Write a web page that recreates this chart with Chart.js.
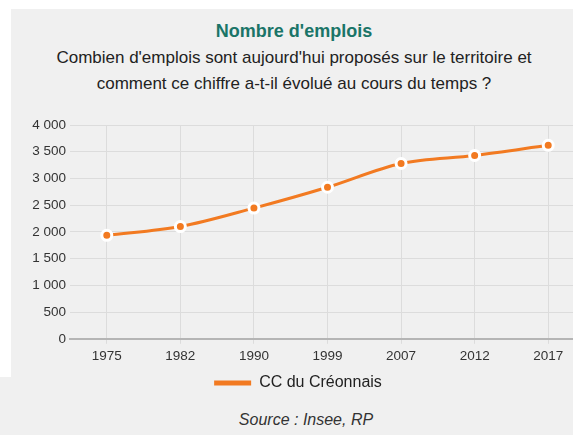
<!DOCTYPE html>
<html lang="fr">
<head>
<meta charset="utf-8">
<title>Nombre d'emplois</title>
<script src="https://cdn.jsdelivr.net/npm/chart.js@4/dist/chart.umd.min.js"></script>
<style>
  html, body {
    margin: 0;
    padding: 0;
    width: 573px;
    height: 435px;
    overflow: hidden;
    background: #fff;
    font-family: "Liberation Sans", Arial, sans-serif;
  }
  .panel { position: absolute; background: #f0f0f0; }
  #top-panel { left: 11px; top: 9px; right: 0; height: 368px; }
  #bottom-panel { left: 0; top: 377px; right: 0; bottom: 0; }
  #titre {
    position: absolute; left: 11px; width: 566px; top: 20px;
    text-align: center; font-size: 18px; line-height: 22px;
    font-weight: bold; color: #1a7568;
  }
  #sous-titre {
    position: absolute; left: 11px; width: 566px; top: 45px;
    text-align: center; font-size: 17px; line-height: 26px; color: #222;
  }
  #source {
    position: absolute; left: 11px; width: 590px; top: 410px;
    text-align: center; font-size: 16px; line-height: 20px;
    font-style: italic; color: #333;
  }
  #chart-box { position: absolute; left: 11px; top: 105px; width: 584px; height: 296px; }
</style>
</head>
<body>
<div class="panel" id="top-panel"></div>
<div class="panel" id="bottom-panel"></div>
<div id="titre">Nombre d'emplois</div>
<div id="sous-titre">Combien d'emplois sont aujourd'hui proposés sur le territoire et<br>comment ce chiffre a-t-il évolué au cours du temps ?</div>
<div id="chart-box"><canvas id="emplois"></canvas></div>
<div id="source">Source : Insee, RP</div>

<script>
// Années de recensement et nombre d'emplois
const annees = ['1975', '1982', '1990', '1999', '2007', '2012', '2017'];
const emplois = [1935, 2100, 2445, 2835, 3280, 3430, 3620];
const nomSerie = 'CC du Créonnais';
const graduations = [0, 500, 1000, 1500, 2000, 2500, 3000, 3500, 4000];

const orange = '#f27a21';

// "4 000" avec espace comme séparateur des milliers
function formatMilliers(v) {
    return String(v).replace(/\B(?=(\d{3})+(?!\d))/g, ' ');
}

const ctx = document.getElementById('emplois').getContext('2d');
new Chart(ctx, {
    type: 'line',
    data: {
        labels: annees,
        datasets: [{
            label: nomSerie,
            data: emplois,
            borderColor: orange,
            backgroundColor: orange,
            borderWidth: 3,
            cubicInterpolationMode: 'monotone',
            pointRadius: 5,
            pointHoverRadius: 5,
            pointBackgroundColor: orange,
            pointBorderColor: '#fff',
            pointBorderWidth: 3
        }]
    },
    options: {
        responsive: true,
        maintainAspectRatio: false,
        animation: false,
        layout: { padding: { top: 20, right: 10, bottom: 0, left: 0 } },
        plugins: {
            tooltip: { enabled: false },
            legend: {
                position: 'bottom',
                labels: {
                    boxWidth: 37,
                    boxHeight: 5,
                    color: '#222',
                    font: { family: '"Liberation Sans", Arial, sans-serif', size: 16 },
                    padding: 7,
                    generateLabels(chart) {
                        const items = Chart.defaults.plugins.legend.labels.generateLabels(chart);
                        items.forEach(it => { it.lineWidth = 0; });
                        return items;
                    }
                }
            }
        },
        scales: {
            x: {
                offset: true,
                grid: {
                    offset: false,
                    color: '#dcdcdc',
                    tickLength: 5
                },
                border: { color: '#b5b5b5', width: 2 },
                ticks: {
                    color: '#333',
                    padding: 4,
                    maxRotation: 0,
                    font: { family: '"Liberation Sans", Arial, sans-serif', size: 13.5 }
                }
            },
            y: {
                min: 0,
                max: 4000,
                afterBuildTicks(scale) {
                    scale.ticks = graduations.map(v => ({ value: v }));
                },
                afterFit(scale) {
                    scale.width = 59;
                },
                grid: { color: '#dcdcdc', drawTicks: false },
                border: { display: false },
                ticks: {
                    color: '#333',
                    padding: 4,
                    font: { family: '"Liberation Sans", Arial, sans-serif', size: 13.5 },
                    callback: v => formatMilliers(v)
                }
            }
        }
    }
});
</script>
</body>
</html>
